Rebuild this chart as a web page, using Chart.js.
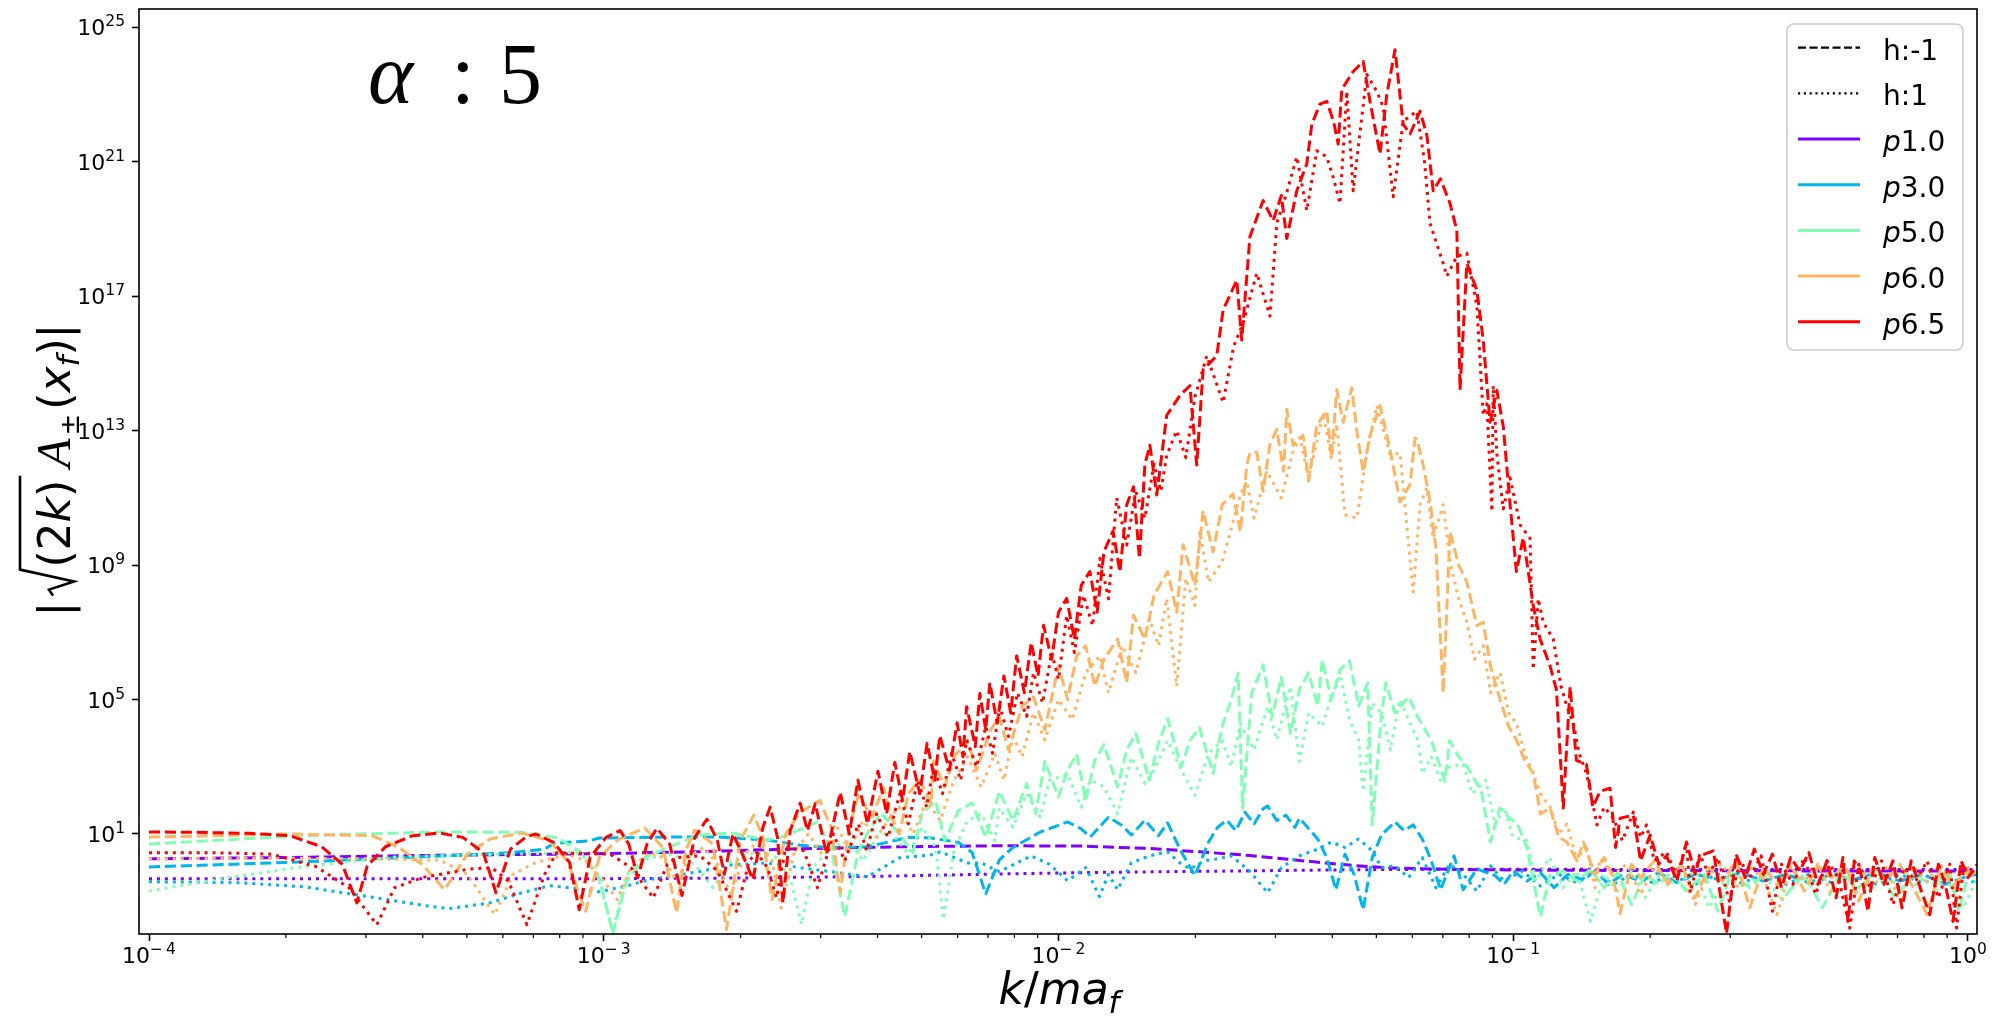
<!DOCTYPE html>
<html>
<head>
<meta charset="utf-8">
<script src="https://cdn.jsdelivr.net/npm/chart.js@4.4.1/dist/chart.umd.min.js"></script>
<style>
  html, body { margin: 0; padding: 0; background: #ffffff; }
  canvas { display: block; }
</style>
</head>
<body>
<canvas id="spectrumChart" width="2012" height="1017"></canvas>
<script>
// ============================
// Data: pairs of [log10(k/ma_f), log10(|sqrt(2k) A(x_f)|)]
// ============================
const pLabels = ["1.0", "3.0", "5.0", "6.0", "6.5"];
const pColors = ["#8000ff", "#00b4ec", "#80ffb4", "#ffb462", "#ff0000"];
const helicityLabels = ["h:-1", "h:1"];

const xMajorTicks = [1e-4, 1e-3, 1e-2, 1e-1, 1];
const yMajorTicks = [1e1, 1e5, 1e9, 1e13, 1e17, 1e21, 1e25];

// p1.0
const p10Minus = [[-4.00,0.26],[-3.70,0.30],[-3.40,0.36],[-3.03,0.41],[-2.80,0.47],[-2.57,0.56],[-2.35,0.62],[-2.13,0.65],
  [-1.95,0.64],[-1.80,0.57],[-1.69,0.47],[-1.58,0.36],[-1.49,0.24],[-1.40,0.12],[-1.32,0.03],[-1.25,-0.02],[-1.10,-0.06],
  [-0.90,-0.08],[-0.60,-0.09],[-0.30,-0.10],[0.02,-0.10]];
const p10Plus = [[-4.00,-0.33],[-3.50,-0.33],[-3.00,-0.33],[-2.70,-0.31],[-2.40,-0.26],[-2.13,-0.19],[-1.90,-0.14],[-1.60,-0.10],
  [-1.40,-0.07],[-1.20,-0.05],[-0.90,-0.05],[-0.50,-0.06],[0.02,-0.06]];

// p3.0
const p30Minus = [[-4.00,0.02],[-3.70,0.15],[-3.40,0.32],[-3.20,0.45],[-3.13,0.55],[-3.11,0.72],[-3.03,0.80],[-3.01,0.88],
  [-2.86,0.91],[-2.75,0.91],[-2.64,0.82],[-2.57,0.67],[-2.50,0.59],[-2.42,0.62],[-2.33,0.90],[-2.28,0.88],[-2.22,0.75],
  [-2.19,0.45],[-2.16,-0.78],[-2.13,0.23],[-2.10,0.60],[-2.04,1.06],[-1.98,1.36],[-1.95,1.15],[-1.93,0.91],[-1.89,1.50],
  [-1.86,1.25],[-1.84,0.97],[-1.81,1.41],[-1.79,1.10],[-1.78,0.95],[-1.76,1.33],[-1.73,0.47],[-1.70,-0.24],[-1.67,0.76],
  [-1.65,1.20],[-1.63,1.41],[-1.61,1.10],[-1.59,1.65],[-1.57,1.30],[-1.55,1.75],[-1.54,1.83],[-1.52,1.40],[-1.50,1.56],
  [-1.48,1.20],[-1.47,1.47],[-1.43,0.85],[-1.41,0.30],[-1.39,-0.66],[-1.37,0.40],[-1.35,-0.20],[-1.33,-1.25],[-1.31,0.30],
  [-1.29,0.97],[-1.26,1.36],[-1.24,1.10],[-1.22,1.27],[-1.20,0.85],[-1.18,0.20],[-1.16,-0.66],[-1.13,0.35],[-1.11,-0.66],
  [-1.08,-0.04],[-1.04,-0.24],[-1.02,-0.50],[-1.00,-0.10],[-0.97,-0.40],[-0.94,-0.15],[-0.91,-0.60],[-0.88,-0.20],
  [-0.85,-0.35],[-0.82,-0.10],[-0.79,-0.50],[-0.76,-0.20],[-0.72,-0.40],[-0.68,-0.15],[-0.64,-0.45],[-0.60,-0.20],
  [-0.55,-0.35],[-0.50,-0.15],[-0.45,-0.40],[-0.40,-0.20],[-0.35,-0.45],[-0.30,-0.20],[-0.25,-0.35],[-0.20,-0.15],
  [-0.15,-0.40],[-0.10,-0.20],[-0.05,-0.50],[0.00,-0.25],[0.02,-0.20]];
const p30Plus = [[-4.00,-0.42],[-3.80,-0.45],[-3.66,-0.57],[-3.50,-0.90],[-3.40,-1.12],[-3.34,-1.22],[-3.25,-1.05],[-3.18,-0.75],
  [-3.12,-0.54],[-3.06,-0.62],[-3.01,-0.72],[-2.95,-0.55],[-2.90,-0.36],[-2.79,-0.12],[-2.72,0.08],[-2.64,0.14],[-2.57,0.00],
  [-2.50,-0.12],[-2.42,-0.27],[-2.38,0.05],[-2.35,0.29],[-2.28,0.38],[-2.26,0.47],[-2.20,0.14],[-2.17,0.14],[-2.13,-0.12],
  [-2.06,0.35],[-2.02,0.10],[-1.98,-0.39],[-1.94,0.00],[-1.91,-0.86],[-1.89,-0.20],[-1.87,-0.66],[-1.84,0.14],[-1.80,0.35],
  [-1.76,0.47],[-1.73,0.10],[-1.71,-0.04],[-1.68,0.20],[-1.65,0.26],[-1.62,0.35],[-1.58,-0.10],[-1.54,-0.75],[-1.51,0.00],
  [-1.47,0.35],[-1.43,0.55],[-1.40,0.76],[-1.37,0.60],[-1.34,0.85],[-1.31,0.50],[-1.29,0.00],[-1.26,0.05],[-1.23,-0.30],
  [-1.20,0.30],[-1.17,-0.60],[-1.14,0.10],[-1.11,-0.20],[-1.08,-0.70],[-1.05,0.05],[-1.02,-0.40],[-0.98,-0.10],[-0.94,-0.55],
  [-0.90,-0.20],[-0.86,-0.45],[-0.82,-0.15],[-0.78,-0.50],[-0.74,-0.20],[-0.70,-0.45],[-0.65,-0.25],[-0.60,-0.50],
  [-0.55,-0.20],[-0.50,-0.45],[-0.45,-0.25],[-0.40,-0.50],[-0.35,-0.20],[-0.30,-0.45],[-0.25,-0.25],[-0.20,-0.50],
  [-0.15,-0.20],[-0.10,-0.45],[-0.05,-0.30],[0.00,-0.50],[0.02,-0.35]];

// p5.0
const p50Minus = [[-4.00,0.70],[-3.80,0.85],[-3.60,0.98],[-3.36,1.06],[-3.18,1.05],[-3.10,0.88],[-3.05,0.45],[-3.01,-0.30],
  [-2.98,-1.95],[-2.95,-0.40],[-2.91,0.30],[-2.86,0.59],[-2.79,0.97],[-2.72,1.03],[-2.64,0.82],[-2.60,0.95],[-2.57,1.12],
  [-2.53,1.36],[-2.50,0.60],[-2.47,-1.46],[-2.44,0.50],[-2.42,1.03],[-2.39,1.62],[-2.35,1.00],[-2.32,0.44],[-2.30,1.62],
  [-2.27,1.98],[-2.25,0.80],[-2.22,1.70],[-2.19,1.92],[-2.16,0.90],[-2.13,2.27],[-2.10,1.40],[-2.07,2.50],[-2.05,1.60],
  [-2.03,3.16],[-2.00,2.10],[-1.98,2.90],[-1.96,3.37],[-1.94,2.00],[-1.92,3.20],[-1.90,3.66],[-1.87,2.40],[-1.85,3.50],
  [-1.83,3.99],[-1.80,2.60],[-1.78,3.70],[-1.76,4.43],[-1.73,3.00],[-1.71,3.80],[-1.69,4.17],[-1.66,2.80],[-1.64,4.20],
  [-1.62,5.00],[-1.605,5.79],[-1.595,1.77],[-1.575,5.20],[-1.55,6.03],[-1.53,4.50],[-1.51,5.67],[-1.49,4.00],[-1.47,5.30],
  [-1.45,5.80],[-1.43,4.80],[-1.42,6.18],[-1.40,5.00],[-1.38,5.90],[-1.36,6.15],[-1.34,4.80],[-1.32,5.50],[-1.31,1.27],
  [-1.29,4.50],[-1.28,5.50],[-1.26,4.60],[-1.23,5.08],[-1.21,4.49],[-1.18,3.78],[-1.15,2.57],[-1.14,3.78],[-1.12,3.30],
  [-1.10,2.98],[-1.08,2.50],[-1.07,2.27],[-1.05,0.76],[-1.03,1.77],[-1.01,1.50],[-0.99,1.27],[-0.97,0.60],[-0.94,-1.46],
  [-0.92,-0.24],[-0.89,-0.10],[-0.86,-0.40],[-0.83,-0.05],[-0.80,-0.60],[-0.77,-0.15],[-0.74,-1.10],[-0.71,-0.20],
  [-0.68,-0.50],[-0.65,-0.10],[-0.62,-0.70],[-0.58,-0.20],[-0.55,-1.30],[-0.52,-0.15],[-0.48,-0.60],[-0.44,-0.10],
  [-0.40,-0.80],[-0.36,-0.20],[-0.32,-1.20],[-0.28,-0.15],[-0.24,-0.60],[-0.20,-0.10],[-0.16,-0.90],[-0.12,-0.20],
  [-0.08,-0.50],[-0.04,-0.15],[-0.02,-1.30],[0.00,-0.20],[0.02,-0.10]];
const p50Plus = [[-4.00,-0.70],[-3.85,-0.35],[-3.66,0.03],[-3.45,0.33],[-3.20,0.40],[-3.06,0.45],[-3.02,0.10],[-2.98,-1.90],
  [-2.95,-0.20],[-2.90,0.30],[-2.85,0.40],[-2.80,0.10],[-2.76,-0.60],[-2.72,0.20],[-2.67,0.45],[-2.62,0.30],[-2.59,-0.30],
  [-2.565,-1.69],[-2.54,0.00],[-2.50,0.60],[-2.46,0.80],[-2.43,0.20],[-2.40,0.90],[-2.37,1.10],[-2.33,0.40],[-2.30,1.20],
  [-2.27,0.60],[-2.253,-1.54],[-2.23,0.50],[-2.20,1.40],[-2.17,1.60],[-2.14,0.80],[-2.13,1.77],[-2.10,1.20],[-2.07,2.20],
  [-2.04,1.50],[-2.02,2.60],[-1.98,2.78],[-1.95,1.80],[-1.93,2.60],[-1.90,2.40],[-1.87,1.60],[-1.84,3.28],[-1.81,2.50],
  [-1.79,2.90],[-1.76,3.78],[-1.73,2.90],[-1.70,2.15],[-1.67,3.40],[-1.64,3.78],[-1.62,3.00],[-1.60,4.28],[-1.57,3.50],
  [-1.54,4.79],[-1.52,3.80],[-1.49,5.38],[-1.47,3.16],[-1.45,4.60],[-1.42,4.20],[-1.40,5.08],[-1.38,5.73],[-1.36,4.40],
  [-1.34,3.80],[-1.33,2.27],[-1.31,4.90],[-1.29,4.60],[-1.27,3.50],[-1.25,5.00],[-1.23,4.40],[-1.21,3.80],[-1.20,2.80],
  [-1.18,3.30],[-1.16,2.60],[-1.14,3.00],[-1.11,3.07],[-1.09,2.20],[-1.06,2.60],[-1.04,1.27],[-1.02,1.80],[-1.00,0.90],
  [-0.97,0.80],[-0.95,-0.40],[-0.92,0.30],[-0.89,-0.60],[-0.86,-0.10],[-0.83,-1.60],[-0.80,-0.20],[-0.77,-0.70],
  [-0.74,-0.10],[-0.71,-0.90],[-0.68,-0.25],[-0.64,-0.50],[-0.60,-0.10],[-0.57,-1.20],[-0.53,-0.30],[-0.49,-0.60],
  [-0.45,-0.15],[-0.41,-1.00],[-0.37,-0.30],[-0.33,-0.50],[-0.29,-0.10],[-0.25,-0.80],[-0.21,-0.20],[-0.17,-0.50],
  [-0.13,-0.15],[-0.09,-1.10],[-0.05,-0.30],[-0.01,-1.20],[0.02,-0.30]];

// p6.0
const p60Minus = [[-4.00,0.91],[-3.85,0.95],[-3.70,1.00],[-3.51,0.95],[-3.45,0.60],[-3.40,0.10],[-3.35,-0.66],[-3.30,0.40],
  [-3.25,0.85],[-3.18,1.03],[-3.12,0.80],[-3.08,0.20],[-3.04,-1.30],[-3.01,0.30],[-2.97,0.82],[-2.91,1.18],[-2.87,0.60],
  [-2.84,-1.34],[-2.82,0.50],[-2.80,1.12],[-2.76,0.70],[-2.73,-1.84],[-2.70,0.80],[-2.67,1.56],[-2.65,0.90],[-2.63,-0.95],
  [-2.60,1.00],[-2.57,1.62],[-2.525,2.00],[-2.50,1.20],[-2.48,-0.75],[-2.46,1.20],[-2.44,2.15],[-2.41,1.50],[-2.385,2.39],
  [-2.37,1.60],[-2.35,1.00],[-2.33,2.20],[-2.305,2.60],[-2.28,1.90],[-2.275,3.17],[-2.25,2.40],[-2.23,3.30],[-2.20,3.78],
  [-2.18,2.90],[-2.15,4.08],[-2.13,4.49],[-2.11,3.50],[-2.08,4.80],[-2.055,5.08],[-2.03,4.10],[-2.00,6.00],[-1.98,5.00],
  [-1.96,6.30],[-1.94,6.60],[-1.92,5.40],[-1.90,6.20],[-1.87,6.80],[-1.85,5.50],[-1.835,7.51],[-1.81,6.80],[-1.79,8.10],
  [-1.76,8.81],[-1.74,7.60],[-1.726,9.61],[-1.70,8.40],[-1.682,10.62],[-1.66,9.40],[-1.64,10.80],[-1.616,11.12],
  [-1.60,10.00],[-1.586,11.98],[-1.579,12.33],[-1.564,12.36],[-1.55,11.20],[-1.535,12.60],[-1.52,13.04],[-1.505,11.80],
  [-1.498,13.63],[-1.484,12.57],[-1.462,12.86],[-1.45,11.50],[-1.432,13.16],[-1.41,13.60],[-1.40,12.20],[-1.388,14.22],
  [-1.374,13.25],[-1.355,14.28],[-1.344,13.00],[-1.330,11.77],[-1.315,12.86],[-1.293,13.75],[-1.271,12.45],[-1.249,10.88],
  [-1.227,11.40],[-1.216,12.78],[-1.212,12.75],[-1.198,11.98],[-1.183,10.90],[-1.17,9.50],[-1.154,5.20],[-1.139,10.00],
  [-1.12,9.00],[-1.102,8.50],[-1.08,7.20],[-1.066,7.30],[-1.05,6.00],[-1.029,5.00],[-1.01,4.20],[-0.993,3.80],[-0.975,3.20],
  [-0.956,2.80],[-0.94,1.60],[-0.919,1.77],[-0.90,0.90],[-0.882,0.76],[-0.86,0.20],[-0.846,0.76],[-0.82,-0.20],[-0.80,0.30],
  [-0.78,-0.30],[-0.765,-1.37],[-0.74,0.10],[-0.72,-0.30],[-0.69,0.20],[-0.66,-0.50],[-0.63,0.10],[-0.60,-0.90],[-0.57,0.00],
  [-0.54,-0.40],[-0.51,0.20],[-0.48,-1.20],[-0.45,0.00],[-0.42,-0.50],[-0.39,0.10],[-0.36,-0.70],[-0.33,0.05],[-0.30,-0.30],
  [-0.27,0.10],[-0.24,-1.00],[-0.21,0.00],[-0.18,-0.40],[-0.15,0.10],[-0.12,-0.60],[-0.09,-1.40],[-0.06,0.00],[-0.03,-0.50],
  [0.00,-0.10],[0.02,-0.30]];
const p60Plus = [[-4.00,0.26],[-3.70,0.28],[-3.50,0.26],[-3.36,0.22],[-3.30,-0.20],[-3.24,-1.40],[-3.20,-0.20],[-3.15,0.15],
  [-3.08,0.40],[-3.04,0.20],[-3.00,-0.40],[-2.97,-0.95],[-2.94,0.00],[-2.90,0.45],[-2.87,0.30],[-2.84,-0.40],[-2.81,0.35],
  [-2.78,0.60],[-2.75,0.10],[-2.72,-0.80],[-2.69,0.40],[-2.66,0.80],[-2.63,0.20],[-2.61,-1.20],[-2.58,0.50],[-2.55,1.00],
  [-2.52,0.40],[-2.49,1.30],[-2.46,0.50],[-2.43,1.40],[-2.40,0.90],[-2.37,1.50],[-2.35,1.80],[-2.32,1.00],[-2.29,2.00],
  [-2.26,1.40],[-2.23,2.60],[-2.20,3.30],[-2.17,2.40],[-2.14,3.40],[-2.12,2.60],[-2.10,3.90],[-2.08,3.30],[-2.055,4.60],
  [-2.03,3.80],[-2.00,5.00],[-1.97,4.40],[-1.94,5.80],[-1.909,6.30],[-1.89,5.20],[-1.86,6.60],[-1.83,5.80],[-1.80,7.40],
  [-1.78,6.60],[-1.762,8.00],[-1.74,5.40],[-1.72,8.60],[-1.70,7.80],[-1.689,10.00],[-1.67,8.50],[-1.64,9.10],[-1.616,10.30],
  [-1.60,11.10],[-1.586,11.50],[-1.57,10.40],[-1.542,11.80],[-1.51,11.00],[-1.484,12.40],[-1.469,12.80],[-1.45,11.60],
  [-1.418,13.50],[-1.40,12.20],[-1.388,13.20],[-1.37,10.50],[-1.344,10.40],[-1.32,12.50],[-1.300,13.75],[-1.271,12.30],
  [-1.249,12.33],[-1.220,8.20],[-1.205,10.80],[-1.190,11.30],[-1.176,9.80],[-1.154,10.80],[-1.139,9.10],[-1.120,8.00],
  [-1.102,7.30],[-1.085,6.20],[-1.066,6.60],[-1.05,5.20],[-1.029,5.80],[-1.01,4.60],[-0.993,4.30],[-0.975,3.40],[-0.956,2.80],
  [-0.94,2.20],[-0.919,1.80],[-0.90,1.00],[-0.882,1.30],[-0.86,0.20],[-0.84,0.70],[-0.82,-0.60],[-0.809,0.26],[-0.78,-0.20],
  [-0.75,0.10],[-0.72,-0.80],[-0.69,0.00],[-0.66,-0.40],[-0.63,0.10],[-0.60,-1.10],[-0.57,-0.10],[-0.54,0.10],[-0.51,-0.60],
  [-0.48,0.00],[-0.45,-0.30],[-0.42,-1.40],[-0.39,0.00],[-0.36,-0.40],[-0.33,0.10],[-0.30,-0.80],[-0.27,-0.10],[-0.24,0.10],
  [-0.21,-0.60],[-0.18,0.00],[-0.15,-1.00],[-0.12,0.05],[-0.09,-0.40],[-0.06,0.10],[-0.03,-0.70],[0.00,0.00],[0.02,-0.20]];

// p6.5
const p65Minus = [[-4.000,1.06],[-3.900,1.05],[-3.780,1.02],[-3.690,0.95],[-3.620,0.62],[-3.575,0.10],[-3.543,-1.05],
  [-3.520,0.05],[-3.480,0.62],[-3.420,0.95],[-3.362,1.03],[-3.310,0.90],[-3.265,0.45],[-3.237,-0.75],[-3.205,0.55],
  [-3.170,0.92],[-3.149,1.00],[-3.110,0.75],[-3.075,0.15],[-3.054,-1.25],[-3.030,0.30],[-2.995,0.90],[-2.964,1.10],
  [-2.945,0.70],[-2.925,-0.30],[-2.905,0.70],[-2.883,1.17],[-2.855,0.70],[-2.828,-0.83],[-2.800,0.90],[-2.773,1.44],
  [-2.750,0.80],[-2.735,-0.20],[-2.716,1.00],[-2.695,0.40],[-2.672,-0.36],[-2.650,1.20],[-2.634,1.80],[-2.618,0.90],
  [-2.606,-1.05],[-2.590,1.10],[-2.568,1.92],[-2.552,1.10],[-2.535,1.90],[-2.510,0.40],[-2.480,2.24],[-2.460,1.00],
  [-2.441,2.60],[-2.420,1.30],[-2.397,2.87],[-2.378,1.60],[-2.360,3.13],[-2.343,2.00],[-2.327,3.45],[-2.305,2.20],
  [-2.289,3.70],[-2.272,2.60],[-2.261,3.93],[-2.240,2.90],[-2.223,4.31],[-2.210,3.30],[-2.202,4.79],[-2.183,3.60],
  [-2.173,5.18],[-2.160,4.10],[-2.151,5.50],[-2.135,4.30],[-2.120,5.70],[-2.105,4.60],[-2.092,6.30],[-2.075,5.20],
  [-2.060,6.70],[-2.045,5.70],[-2.033,7.21],[-2.015,6.20],[-2.000,7.60],[-1.982,8.01],[-1.965,6.80],[-1.950,8.40],
  [-1.931,8.81],[-1.915,7.60],[-1.900,9.40],[-1.880,10.02],[-1.865,8.80],[-1.850,10.80],[-1.835,11.33],[-1.822,9.20],
  [-1.810,12.00],[-1.799,12.57],[-1.784,11.09],[-1.762,13.46],[-1.733,14.05],[-1.711,14.34],[-1.696,11.98],[-1.682,14.82],
  [-1.652,15.23],[-1.638,16.59],[-1.608,17.48],[-1.597,15.70],[-1.579,18.78],[-1.550,19.85],[-1.528,19.25],[-1.510,20.00],
  [-1.498,18.72],[-1.476,20.14],[-1.454,20.94],[-1.443,22.12],[-1.425,22.72],[-1.410,22.80],[-1.395,22.20],[-1.385,21.53],
  [-1.377,23.16],[-1.352,23.69],[-1.330,23.99],[-1.315,22.80],[-1.293,21.24],[-1.278,23.00],[-1.260,24.34],[-1.242,22.12],
  [-1.227,21.83],[-1.205,22.51],[-1.190,21.80],[-1.176,20.14],[-1.160,20.50],[-1.139,19.76],[-1.124,18.96],[-1.117,14.22],
  [-1.102,17.98],[-1.080,17.18],[-1.066,15.70],[-1.051,13.25],[-1.036,14.20],[-1.022,13.13],[-1.007,10.82],[-0.993,8.81],
  [-0.978,9.82],[-0.956,7.80],[-0.941,6.80],[-0.919,6.00],[-0.905,5.29],[-0.890,1.77],[-0.875,5.38],[-0.861,3.19],
  [-0.839,3.07],[-0.825,1.80],[-0.809,2.27],[-0.787,2.36],[-0.775,0.60],[-0.765,1.47],[-0.736,1.56],[-0.720,0.20],
  [-0.699,0.97],[-0.680,0.10],[-0.663,0.35],[-0.640,-0.40],[-0.619,0.76],[-0.600,-0.20],[-0.589,0.35],[-0.560,0.50],
  [-0.531,-1.96],[-0.510,0.40],[-0.490,-0.30],[-0.470,0.55],[-0.450,-0.20],[-0.430,0.40],[-0.410,-0.60],[-0.390,0.30],
  [-0.370,-0.10],[-0.350,0.45],[-0.330,-0.50],[-0.310,0.20],[-0.290,-0.90],[-0.275,0.30],[-0.264,-1.60],[-0.250,0.20],
  [-0.235,-0.20],[-0.220,-1.30],[-0.205,0.30],[-0.185,-0.50],[-0.165,0.20],[-0.145,-1.20],[-0.125,0.20],[-0.105,-0.60],
  [-0.084,-1.40],[-0.065,0.10],[-0.050,-0.50],[-0.033,-1.60],[-0.015,0.20],[0.000,-0.30],[0.020,0.10]];
const p65Plus = [[-4.000,0.44],[-3.850,0.44],[-3.730,0.40],[-3.633,0.03],[-3.560,-0.60],[-3.499,-1.70],[-3.460,-0.60],
  [-3.400,-0.30],[-3.300,-0.05],[-3.246,0.00],[-3.210,-0.40],[-3.169,-1.70],[-3.130,-0.20],[-3.104,0.44],[-3.040,0.42],
  [-2.986,0.40],[-2.940,0.00],[-2.891,-0.90],[-2.860,0.10],[-2.840,0.30],[-2.788,0.35],[-2.750,-0.10],[-2.708,-1.30],
  [-2.680,0.20],[-2.664,0.45],[-2.640,0.00],[-2.620,-0.90],[-2.600,0.60],[-2.560,0.50],[-2.530,-0.60],[-2.495,1.00],
  [-2.470,0.20],[-2.440,1.30],[-2.422,0.50],[-2.400,1.60],[-2.375,0.90],[-2.349,2.20],[-2.330,1.30],[-2.310,2.60],
  [-2.290,1.80],[-2.275,3.00],[-2.255,2.20],[-2.235,3.40],[-2.215,2.60],[-2.202,3.80],[-2.180,3.00],[-2.160,4.20],
  [-2.145,3.40],[-2.129,4.80],[-2.110,3.90],[-2.090,5.20],[-2.070,4.50],[-2.055,5.80],[-2.035,4.90],[-2.015,6.40],
  [-2.000,5.60],[-1.982,7.50],[-1.965,6.40],[-1.945,8.10],[-1.925,7.20],[-1.909,9.20],[-1.890,8.00],[-1.872,11.00],
  [-1.850,9.60],[-1.830,11.20],[-1.810,10.40],[-1.790,12.00],[-1.775,11.20],[-1.762,12.27],[-1.740,13.00],[-1.720,12.20],
  [-1.700,14.00],[-1.674,15.23],[-1.655,14.50],[-1.638,13.84],[-1.615,15.50],[-1.594,16.21],[-1.564,17.69],[-1.535,16.41],
  [-1.520,19.17],[-1.500,20.00],[-1.476,21.15],[-1.454,19.55],[-1.432,21.33],[-1.410,21.15],[-1.395,20.50],[-1.381,19.76],
  [-1.366,23.10],[-1.352,20.14],[-1.322,23.60],[-1.300,23.10],[-1.286,22.63],[-1.264,19.96],[-1.242,22.21],[-1.212,22.51],
  [-1.195,21.00],[-1.183,19.17],[-1.154,17.98],[-1.146,17.60],[-1.124,18.19],[-1.102,18.28],[-1.080,16.71],[-1.066,13.46],
  [-1.058,13.80],[-1.047,10.60],[-1.044,14.34],[-1.036,12.30],[-1.022,10.67],[-1.007,11.60],[-0.985,10.20],[-0.963,9.80],
  [-0.956,5.90],[-0.945,8.00],[-0.934,7.30],[-0.912,6.80],[-0.895,5.40],[-0.882,4.80],[-0.868,4.30],[-0.855,3.40],
  [-0.839,2.80],[-0.825,1.90],[-0.816,1.27],[-0.800,1.80],[-0.780,1.47],[-0.760,0.80],[-0.736,1.65],[-0.720,0.90],
  [-0.707,1.27],[-0.690,0.20],[-0.663,0.47],[-0.640,-0.30],[-0.619,0.76],[-0.611,-0.75],[-0.590,0.40],[-0.570,-0.20],
  [-0.550,0.30],[-0.525,-1.00],[-0.500,0.20],[-0.480,-0.30],[-0.455,0.35],[-0.430,-1.30],[-0.410,0.10],[-0.385,-0.50],
  [-0.360,0.30],[-0.335,-0.80],[-0.310,0.20],[-0.285,-0.30],[-0.260,-1.80],[-0.240,0.10],[-0.215,-0.60],[-0.190,0.20],
  [-0.165,-1.10],[-0.140,0.00],[-0.115,-0.40],[-0.090,0.20],[-0.065,-0.90],[-0.040,0.10],[-0.025,-1.80],[-0.010,0.00],
  [0.020,-0.20]];

// plotting order: for each p, h=-1 (dashed) then h=1 (dotted)
const seriesTable = [
  { p: 0, h: 0, pairs: p10Minus }, { p: 0, h: 1, pairs: p10Plus },
  { p: 1, h: 0, pairs: p30Minus }, { p: 1, h: 1, pairs: p30Plus },
  { p: 2, h: 0, pairs: p50Minus }, { p: 2, h: 1, pairs: p50Plus },
  { p: 3, h: 0, pairs: p60Minus }, { p: 3, h: 1, pairs: p60Plus },
  { p: 4, h: 0, pairs: p65Minus }, { p: 4, h: 1, pairs: p65Plus }
];

// ============================
// Styles
// ============================
const LINE_WIDTH = 3;
const helicityDash = [[11.1, 4.8], [3, 4.95]];
const legendDash = [[8, 3.5], [2.2, 3.6]];
const FONT = '"DejaVu Sans", sans-serif';
const SERIF = '"Liberation Serif", "DejaVu Serif", serif';
const TICK_SIZE = 22;
const EXP_SIZE = 15.5;

function toPoints(pairs) {
  return pairs.map(([lk, ly]) => ({ x: Math.pow(10, lk), y: Math.pow(10, ly) }));
}

// ============================
// Text helpers
// ============================
function drawPieces(ctx, pieces, x) {
  pieces.forEach(pc => {
    ctx.font = pc.font;
    ctx.fillText(pc.text, x, pc.dy || 0);
    x += ctx.measureText(pc.text).width + (pc.gap || 0);
  });
  return x;
}

function piecesWidth(ctx, pieces) {
  return pieces.reduce((w, pc) => {
    ctx.font = pc.font;
    return w + ctx.measureText(pc.text).width + (pc.gap || 0);
  }, 0);
}

// "10" with a raised exponent, like matplotlib's mathtext
function powerPieces(value) {
  const exp = Math.round(Math.log10(value));
  const pieces = [{ text: "10", font: TICK_SIZE + "px " + FONT }];
  if (exp < 0) pieces.push({ text: "\u2212", font: EXP_SIZE + "px " + FONT, dy: -9, gap: 3 });
  pieces.push({ text: String(Math.abs(exp)), font: EXP_SIZE + "px " + FONT, dy: -9 });
  return pieces;
}

// ============================
// Extra drawing: frame, ticks labels, title, legend, axis labels
// ============================
const decorationsPlugin = {
  id: "decorations",
  afterDraw(chart) {
    const { ctx, chartArea: area } = chart;
    const xScale = chart.scales.x;
    const yScale = chart.scales.y;
    ctx.save();

    // frame on all four sides
    ctx.strokeStyle = "#000";
    ctx.lineWidth = 1.6;
    ctx.setLineDash([]);
    ctx.strokeRect(area.left, area.top, area.right - area.left, area.bottom - area.top);

    // minor ticks on the k axis
    ctx.lineWidth = 1.2;
    for (let e = -4; e < 0; e++) {
      for (let m = 2; m <= 9; m++) {
        const px = xScale.getPixelForValue(m * Math.pow(10, e));
        if (px < area.left || px > area.right) continue;
        ctx.beginPath();
        ctx.moveTo(px, area.bottom);
        ctx.lineTo(px, area.bottom + 4);
        ctx.stroke();
      }
    }

    ctx.fillStyle = "#000";
    ctx.textBaseline = "alphabetic";
    ctx.textAlign = "left";

    // tick labels
    xMajorTicks.forEach(v => {
      const pcs = powerPieces(v);
      const w = piecesWidth(ctx, pcs);
      ctx.save();
      ctx.translate(0, area.bottom + 29);
      drawPieces(ctx, pcs, xScale.getPixelForValue(v) - w / 2);
      ctx.restore();
    });
    yMajorTicks.forEach(v => {
      const pcs = powerPieces(v);
      const w = piecesWidth(ctx, pcs);
      ctx.save();
      ctx.translate(0, yScale.getPixelForValue(v) + 8);
      drawPieces(ctx, pcs, area.left - 14 - w);
      ctx.restore();
    });

    // title
    ctx.font = "italic 86px " + SERIF;
    ctx.fillText("\u03B1", 368, 103);
    ctx.font = "86px " + SERIF;
    ctx.fillText(":", 451, 103);
    ctx.fillText("5", 499, 103);

    // legend
    const box = { x: 1787, y: 24, w: 176, h: 326 };
    ctx.beginPath();
    ctx.roundRect(box.x, box.y, box.w, box.h, 7);
    ctx.fillStyle = "rgba(255,255,255,0.8)";
    ctx.fill();
    ctx.strokeStyle = "#cccccc";
    ctx.lineWidth = 1.6;
    ctx.stroke();

    const rows = helicityLabels.map((lab, i) => ({ text: lab, color: "#000", dash: legendDash[i], width: 2.2, italicP: false }))
      .concat(pLabels.map((lab, i) => ({ text: lab, color: pColors[i], dash: [], width: LINE_WIDTH, italicP: true })));
    rows.forEach((row, i) => {
      const y = 47.7 + i * 45.67;
      ctx.beginPath();
      ctx.setLineDash(row.dash);
      ctx.lineWidth = row.width;
      ctx.strokeStyle = row.color;
      ctx.moveTo(1798, y);
      ctx.lineTo(1860, y);
      ctx.stroke();
      ctx.setLineDash([]);
      ctx.fillStyle = "#000";
      let x = 1883;
      if (row.italicP) {
        ctx.font = "italic 28px " + FONT;
        ctx.fillText("p", x, y + 12);
        x += ctx.measureText("p").width;
      }
      ctx.font = "28px " + FONT;
      ctx.fillText(row.text, x, y + 12);
    });

    // x axis label: k/ma_f
    const xl = [
      { text: "k", font: "italic 44px " + FONT },
      { text: "/", font: "44px " + FONT },
      { text: "ma", font: "italic 44px " + FONT },
      { text: "f", font: "italic 31px " + FONT, dy: 9 }
    ];
    const xlw = piecesWidth(ctx, xl);
    ctx.save();
    ctx.translate(0, 1004);
    drawPieces(ctx, xl, 1059 - xlw / 2);
    ctx.restore();

    // y axis label: |sqrt((2k)) A_pm(x_f)|
    ctx.save();
    ctx.translate(70, 470);
    ctx.rotate(-Math.PI / 2);
    const before = [{ text: "|", font: "44px " + FONT, gap: 4 }];
    const radicalW = 30;
    const under = [
      { text: "(2", font: "44px " + FONT },
      { text: "k", font: "italic 44px " + FONT },
      { text: ")", font: "44px " + FONT, gap: 12 }
    ];
    const after = [
      { text: "A", font: "italic 48px " + SERIF, gap: 3 },
      { text: "\u00B1", font: "26px " + FONT, dy: 9, gap: 4 },
      { text: "(", font: "44px " + FONT },
      { text: "x", font: "italic 44px " + FONT },
      { text: "f", font: "italic 31px " + FONT, dy: 9 },
      { text: ")|", font: "44px " + FONT }
    ];
    const total = piecesWidth(ctx, before) + radicalW + piecesWidth(ctx, under) + piecesWidth(ctx, after);
    let x = -total / 2;
    x = drawPieces(ctx, before, x);
    const top = -50;
    ctx.strokeStyle = "#000";
    ctx.lineWidth = 2.6;
    ctx.lineJoin = "miter";
    ctx.beginPath();
    ctx.moveTo(x + 2, -17);
    ctx.lineTo(x + 8, -21);
    ctx.lineTo(x + 16, 4);
    ctx.lineTo(x + radicalW - 2, top);
    x += radicalW;
    const underEnd = drawPieces(ctx, under, x);
    ctx.lineTo(underEnd - 8, top);
    ctx.stroke();
    drawPieces(ctx, after, underEnd);
    ctx.restore();

    ctx.restore();
  }
};

// ============================
// Chart
// ============================
const datasets = seriesTable.map((s, i) => ({
  label: helicityLabels[s.h] + " p" + pLabels[s.p],
  data: toPoints(s.pairs),
  borderColor: pColors[s.p],
  borderWidth: LINE_WIDTH,
  borderDash: helicityDash[s.h],
  borderJoinStyle: "round",
  borderCapStyle: "butt",
  pointRadius: 0,
  pointHoverRadius: 0,
  tension: 0,
  fill: false,
  clip: 0,
  order: seriesTable.length - i
}));

const ctx = document.getElementById("spectrumChart").getContext("2d");
new Chart(ctx, {
  type: "line",
  data: { datasets },
  options: {
    responsive: false,
    animation: false,
    events: [],
    layout: { padding: { top: 9, right: 35, left: 0, bottom: 0 } },
    plugins: { legend: { display: false }, tooltip: { enabled: false } },
    scales: {
      x: {
        type: "logarithmic",
        position: "bottom",
        min: Math.pow(10, -4.022),
        max: Math.pow(10, 0.0198),
        afterBuildTicks: axis => { axis.ticks = xMajorTicks.map(v => ({ value: v })); },
        afterFit: axis => { axis.height = 83; },
        border: { display: false },
        grid: { display: true, drawOnChartArea: false, drawTicks: true, tickLength: 7, tickWidth: 1.6, tickColor: "#000" },
        ticks: { display: false, autoSkip: false, maxRotation: 0, minRotation: 0 }
      },
      y: {
        type: "logarithmic",
        position: "left",
        min: Math.pow(10, -1.976),
        max: Math.pow(10, 25.55),
        afterBuildTicks: axis => { axis.ticks = yMajorTicks.map(v => ({ value: v })); },
        afterFit: axis => { axis.width = 139; },
        border: { display: false },
        grid: { display: true, drawOnChartArea: false, drawTicks: true, tickLength: 7, tickWidth: 1.6, tickColor: "#000" },
        ticks: { display: false, autoSkip: false }
      }
    }
  },
  plugins: [decorationsPlugin]
});
</script>
</body>
</html>
